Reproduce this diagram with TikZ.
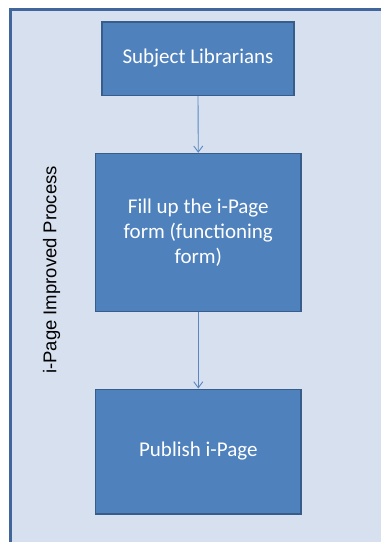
\documentclass[tikz,border=0pt]{standalone}
\usepackage{fontspec}
\setmainfont{Carlito}
\newfontfamily\lblfont{Liberation Sans}
\usetikzlibrary{arrows.meta}
\definecolor{boxfill}{HTML}{4F81BD}
\definecolor{boxline}{HTML}{385D8A}
\definecolor{framefill}{HTML}{D6E0EF}
\definecolor{frameline}{HTML}{41669B}
\definecolor{arrowcol}{HTML}{5A87C0}
\tikzset{
  stepbox/.style={draw=boxline, line width=1.5pt, fill=boxfill, text=white,
    font=\fontsize{21}{25}\selectfont, align=center, inner sep=0pt},
  flow/.style={draw=arrowcol, line width=0.9pt, -{Straight Barb[length=6pt,width=9pt]}}
}
\begin{document}
\begin{tikzpicture}[x=1pt,y=-1pt]
\useasboundingbox (0,0) rectangle (381,542);
\clip (0,0) rectangle (381,542);
\draw[fill=framefill, draw=frameline, line width=2.5pt] (10.5,9.5) rectangle (420,580);
\node[stepbox, minimum width=192pt, minimum height=73.5pt] (a) at (198,58.5) {Subject Librarians};
\node[stepbox, minimum width=205.5pt, minimum height=158pt] (b) at (198.3,232.5) {Fill up the i-Page\\form (functioning\\form)};
\node[stepbox, minimum width=205.5pt, minimum height=124.5pt] (c) at (198.3,451.5) {Publish i-Page};
\node[rotate=90, inner sep=0pt, font=\lblfont\fontsize{18.5}{22}\selectfont] (lbl) at (51.5,270) {i-Page Improved Process};
\draw[flow] (a.south) -- (b.north);
\draw[flow] (b.south) -- (c.north);
\end{tikzpicture}
\end{document}
